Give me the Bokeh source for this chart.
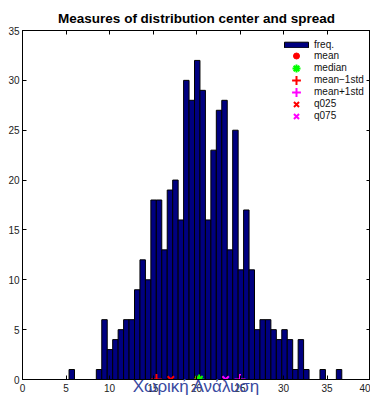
import numpy as np
from bokeh.plotting import figure
from bokeh.models import (Range1d, FixedTicker, LinearAxis, Legend, LegendItem,
                          ColumnDataSource)
from bokeh.embed import file_html
from bokeh.resources import INLINE

# ---- data ----
counts = [1, 0, 0, 0, 0, 1, 6, 3, 4, 5,
          6, 6, 9, 12, 10, 18, 18, 13, 19, 20,
          16, 30, 28, 32, 29, 16, 23, 27, 28, 13,
          25, 11, 17, 11, 5, 6, 6, 5, 4, 5,
          4, 1, 4, 1, 0, 0, 1, 0, 0, 1]
data_min = 5.35
data_max = 36.7
mean_val = 20.2
median_val = 20.3
std_val = 4.8
q025_val = 17.05
q075_val = 23.35
x_ticks = [0, 5, 10, 15, 20, 25, 30, 35, 40]
y_ticks = [0, 5, 10, 15, 20, 25, 30, 35]
title_text = "Measures of distribution center and spread"
watermark = "Χωρική Ανάλυση"
legend_labels = ["freq.", "mean", "median", "mean\u22121std", "mean+1std", "q025", "q075"]

edges = np.linspace(data_min, data_max, len(counts) + 1)
src = ColumnDataSource(dict(left=edges[:-1], right=edges[1:], top=counts,
                            bottom=[0] * len(counts)))

FONT = "Liberation Sans"

p = figure(width=370, height=398, output_backend="svg", toolbar_location=None,
           x_range=Range1d(0, 40), y_range=Range1d(0, 35),
           min_border_left=22, min_border_right=0, min_border_top=30,
           min_border_bottom=19, title=title_text)
p.title.align = "center"
p.title.text_font = FONT
p.title.text_font_size = "13.5px"
p.title.text_font_style = "bold"
p.title.text_color = "#000000"
p.grid.visible = False
p.outline_line_color = "black"
p.outline_line_width = 1
p.background_fill_color = "white"
p.border_fill_color = "white"

for ax in (p.xaxis[0], p.yaxis[0]):
    ax.major_tick_in = 4
    ax.major_tick_out = 0
    ax.minor_tick_line_color = None
    ax.axis_line_color = "black"
    ax.major_label_text_font = FONT
    ax.major_label_text_font_size = "10px"
    ax.major_label_text_color = "#222222"
p.xaxis[0].ticker = FixedTicker(ticks=x_ticks)
p.yaxis[0].ticker = FixedTicker(ticks=y_ticks)
p.xaxis[0].major_label_standoff = 4
p.yaxis[0].major_label_standoff = 3

# the blue caption overlapping the tick labels, carried by the bottom axis
p.xaxis[0].axis_label = watermark
p.xaxis[0].axis_label_text_font = FONT
p.xaxis[0].axis_label_text_font_size = "17px"
p.xaxis[0].axis_label_text_font_style = "normal"
p.xaxis[0].axis_label_text_color = "#3949a0"
p.xaxis[0].axis_label_standoff = -18

top_ax = LinearAxis(ticker=FixedTicker(ticks=x_ticks), major_tick_in=4, major_tick_out=0,
                    minor_tick_line_color=None, major_label_text_font_size="1px",
                    major_label_text_color=None,
                    major_label_standoff=0, axis_line_color="black")
right_ax = LinearAxis(ticker=FixedTicker(ticks=y_ticks), major_tick_in=4, major_tick_out=0,
                      minor_tick_line_color=None, major_label_text_font_size="1px",
                      major_label_text_color=None,
                      major_label_standoff=0, axis_line_color="black")
p.add_layout(top_ax, "above")
p.add_layout(right_ax, "right")

bars = p.quad(left="left", right="right", top="top", bottom="bottom", source=src,
              fill_color="#000080", line_color="black", line_width=1)

r_mean = p.scatter([mean_val], [0], marker="circle", size=7, fill_color="red",
                   line_color="red")
r_med = p.scatter([median_val], [0], marker="asterisk", size=10, line_color="#00ff00",
                  line_width=2)
r_m1 = p.scatter([mean_val - std_val], [0], marker="cross", size=11, line_color="red",
                 line_width=2)
r_p1 = p.scatter([mean_val + std_val], [0], marker="cross", size=11, line_color="#ff00ff",
                 line_width=2)
r_q25 = p.scatter([q025_val], [0], marker="x", size=9, line_color="red", line_width=2)
r_q75 = p.scatter([q075_val], [0], marker="x", size=9, line_color="#ff00ff", line_width=2)

renderers = [bars, r_mean, r_med, r_m1, r_p1, r_q25, r_q75]
centers = [44, 55.5, 67.5, 79.5, 91.5, 103.5, 115.5]   # item centres, px from top
glyph_h = [7, 15, 20, 22, 22, 18, 18]
for lab, rend, c, gh in zip(legend_labels, renderers, centers, glyph_h):
    item_h = max(gh, 12)
    vy = 379 - item_h - (c - item_h / 2)
    leg = Legend(items=[LegendItem(label=lab, renderers=[rend])],
                 location=(259, vy), glyph_width=30, glyph_height=gh,
                 label_height=12, spacing=0, padding=0, margin=0, label_standoff=3,
                 label_text_font=FONT, label_text_font_size="10px",
                 label_text_color="#111111",
                 background_fill_alpha=0, border_line_color=None)
    p.add_layout(leg)

open("out.html", "w").write(file_html(p, INLINE))
